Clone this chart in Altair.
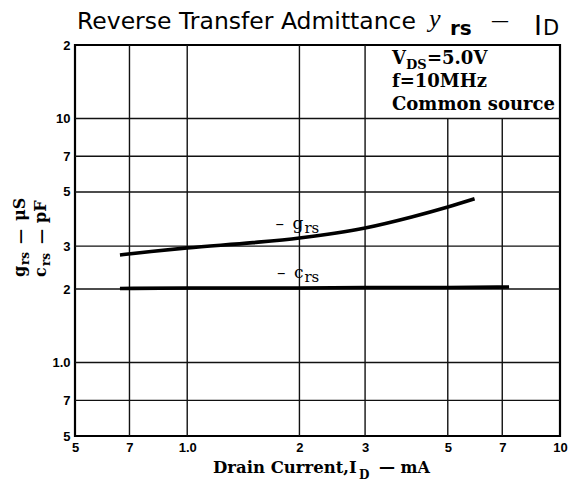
import altair as alt
import pandas as pd

# ---- data ----
x_ticks = [0.5, 0.7, 1, 2, 3, 5, 7, 10]
x_tick_labels = ["5", "7", "1.0", "2", "3", "5", "7", "10"]
y_ticks = [0.5, 0.7, 1, 2, 3, 5, 7, 10, 20]
y_tick_labels = ["5", "7", "1.0", "2", "3", "5", "7", "10", "2"]

grs_id = [0.66, 0.8, 1.0, 1.5, 2.0, 3.0, 4.0, 5.0, 5.9]
grs_val = [2.76, 2.85, 2.95, 3.1, 3.24, 3.56, 3.95, 4.34, 4.69]
crs_id = [0.66, 1.0, 2.0, 3.0, 5.0, 7.3]
crs_val = [2.01, 2.02, 2.02, 2.03, 2.03, 2.04]

vgrid_full = [0.7, 1, 2, 3]
vgrid_short = [5, 7]
hgrid = [0.7, 1, 2, 3, 5, 7, 10]

x_domain = [0.5, 10]
y_domain = [0.5, 20]
box_bottom = 10

label_x = [2.05, 2.05]
label_y = [3.51, 2.23]
label_main = ["\u2013\u2002g", "\u2013\u2002c"]
label_sub = ["rs", "rs"]

W, H = 485, 391

xs = alt.Scale(type="log", domain=x_domain, nice=False)
ys = alt.Scale(type="log", domain=y_domain, nice=False)


def lab_expr(ticks, labels):
    return "{" + ",".join(f"'{t}':'{l}'" for t, l in zip(ticks, labels)) + "}[datum.value]"


TICKFONT = "Liberation Sans"
common_axis = dict(title=None, grid=False, ticks=False, domain=False,
                   labelFont=TICKFONT, labelFontSize=13, labelFontWeight="bold",
                   labelColor="black", labelFlush=False, labelOverlap=False,
                   labelPadding=5)
xaxis = alt.Axis(values=x_ticks, labelExpr=lab_expr(x_ticks, x_tick_labels), **common_axis)
yaxis = alt.Axis(values=y_ticks, labelExpr=lab_expr(y_ticks, y_tick_labels), **common_axis)

# grid rules
vdf = pd.DataFrame({
    "x": vgrid_full + vgrid_short,
    "y1": [y_domain[0]] * (len(vgrid_full) + len(vgrid_short)),
    "y2": [y_domain[1]] * len(vgrid_full) + [box_bottom] * len(vgrid_short),
})
hdf = pd.DataFrame({"y": hgrid, "x1": [x_domain[0]] * len(hgrid), "x2": [x_domain[1]] * len(hgrid)})

vrules = alt.Chart(vdf).mark_rule(color="#111", strokeWidth=1.4).encode(
    x=alt.X("x:Q", scale=xs, axis=xaxis),
    y=alt.Y("y1:Q", scale=ys, axis=yaxis),
    y2="y2:Q",
)
hrules = alt.Chart(hdf).mark_rule(color="#111", strokeWidth=1.4).encode(
    y=alt.Y("y:Q", scale=ys, axis=yaxis),
    x=alt.X("x1:Q", scale=xs, axis=xaxis),
    x2="x2:Q",
)

curve_df = pd.concat([
    pd.DataFrame({"id": grs_id, "v": grs_val, "s": "grs"}),
    pd.DataFrame({"id": crs_id, "v": crs_val, "s": "crs"}),
])
curves = alt.Chart(curve_df).mark_line(color="black", strokeWidth=3.6, interpolate="monotone").encode(
    x=alt.X("id:Q", scale=xs, axis=xaxis),
    y=alt.Y("v:Q", scale=ys, axis=yaxis),
    detail="s:N",
)

lab_df = pd.DataFrame({"x": label_x, "y": label_y, "m": label_main, "s": label_sub})
lab_main = alt.Chart(lab_df).mark_text(font="DejaVu Serif", fontSize=17, align="right",
                                        baseline="alphabetic", color="black").encode(
    x=alt.X("x:Q", scale=xs, axis=xaxis), y=alt.Y("y:Q", scale=ys, axis=yaxis), text="m:N")
lab_sub = alt.Chart(lab_df).mark_text(font="DejaVu Serif", fontSize=15, align="left",
                                       baseline="alphabetic", dx=1, dy=4, color="black").encode(
    x=alt.X("x:Q", scale=xs, axis=xaxis), y=alt.Y("y:Q", scale=ys, axis=yaxis), text="s:N")


def txt(s, x, y, **props):
    base = dict(align="left", baseline="alphabetic", color="black")
    base.update(props)
    return alt.Chart(pd.DataFrame({"t": [s]})).mark_text(**base).encode(
        x=alt.value(x), y=alt.value(y), text="t:N")


SERIF = "DejaVu Serif"
SANS = "DejaVu Sans"
texts = [
    # title
    txt("Reverse Transfer Admittance", 2, -16, font=SANS, fontSize=23.5),
    txt("y", 354, -18, font="Liberation Serif", fontSize=26, fontStyle="italic"),
    txt("rs", 375, -10, font=SANS, fontSize=20, fontWeight="bold"),
    txt("\u2014", 416, -19, font=SANS, fontSize=18),
    txt("I", 459, -10, font=SANS, fontSize=27),
    txt("D", 468, -10, font=SANS, fontSize=21),
    # conditions box
    txt("V", 317, 19, font=SERIF, fontSize=18, fontWeight="bold"),
    txt("DS", 331, 24, font=SERIF, fontSize=13, fontWeight="bold"),
    txt("=5.0V", 352, 19, font=SERIF, fontSize=18, fontWeight="bold"),
    txt("f=10MHz", 317, 42, font=SERIF, fontSize=18, fontWeight="bold"),
    txt("Common source", 317, 65, font=SERIF, fontSize=18, fontWeight="bold"),
    # x-axis title
    txt("Drain Current,I", 138, 428, font=SERIF, fontSize=16.5, fontWeight="bold"),
    txt("D", 284, 434, font=SERIF, fontSize=12, fontWeight="bold"),
    txt("\u2014 mA", 304, 428, font=SERIF, fontSize=16, fontWeight="bold"),
    # y-axis title (rotated)
    txt("g", -50, 232, font=SERIF, fontSize=16, fontWeight="bold", angle=270),
    txt("rs", -46, 220, font=SERIF, fontSize=12, fontWeight="bold", angle=270),
    txt("\u2014", -50, 199, font=SERIF, fontSize=15, fontWeight="bold", angle=270),
    txt("\u03bcS", -50, 176, font=SERIF, fontSize=16, fontWeight="bold", angle=270),
    txt("c", -29, 232, font=SERIF, fontSize=16, fontWeight="bold", angle=270),
    txt("rs", -25, 221, font=SERIF, fontSize=12, fontWeight="bold", angle=270),
    txt("\u2014", -29, 199, font=SERIF, fontSize=15, fontWeight="bold", angle=270),
    txt("pF", -29, 178, font=SERIF, fontSize=16, fontWeight="bold", angle=270),
]

chart = alt.layer(vrules, hrules, curves, lab_main, lab_sub, *texts).properties(
    width=W, height=H,
    autosize=alt.AutoSizeParams(type="none"),
    padding={"left": 67, "top": 37, "right": 9, "bottom": 45},
    background="white",
).configure_view(stroke="black", strokeWidth=2.2)

chart.save("out.html", embed_options={"renderer": "svg", "actions": False})
